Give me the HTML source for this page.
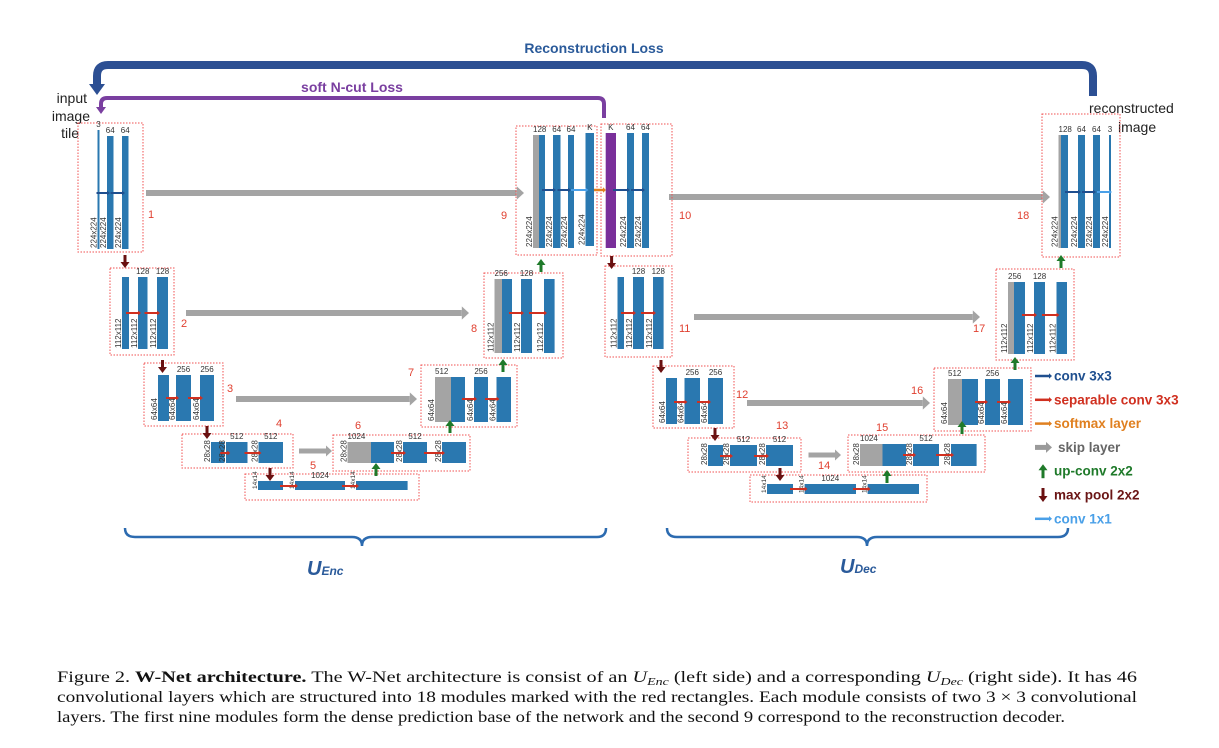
<!DOCTYPE html>
<html><head><meta charset="utf-8"><style>
html,body{margin:0;padding:0;background:#fff;}
svg{display:block;font-family:"Liberation Sans",sans-serif;}
</style></head><body>
<svg id="fig" width="1219" height="748" viewBox="0 0 1219 748" xmlns="http://www.w3.org/2000/svg">
<g id="loss">
<path d="M97,88 L97,76 Q97,65 108,65 L1082,65 Q1093,65 1093,76 L1093,96" fill="none" stroke="#2c4f93" stroke-width="8"/>
<path d="M89,84 L105,84 L97,95 z" fill="#2c4f93"/>
<text x="594" y="53" text-anchor="middle" font-size="14" font-weight="bold" fill="#2a5a9a">Reconstruction Loss</text>
<path d="M101,108 L101,104 Q101,98 107,98 L598,98 Q604,98 604,104 L604,118" fill="none" stroke="#7a3fa0" stroke-width="4"/>
<path d="M96,107 L106,107 L101,114 z" fill="#7a3fa0"/>
<text x="352" y="92" text-anchor="middle" font-size="14" font-weight="bold" fill="#7a3fa0">soft N-cut Loss</text>
</g>
<g font-size="14" fill="#222" text-anchor="end">
<text x="87" y="103">input</text><text x="90" y="121">image</text><text x="79" y="138">tile</text>
</g>
<g font-size="14" fill="#222">
<text x="1089" y="113">reconstructed</text><text x="1118" y="132">image</text>
</g>
<g id="mods"></g>
<g id="legend" font-size="13.5" font-weight="bold"></g>
<g>
<path d="M125,528 Q125,537 135,537 L352,537 Q362,537 362,546 Q362,537 372,537 L597,537 Q606,537 606,528" fill="none" stroke="#2c6bb0" stroke-width="2.5"/>
<text x="307" y="575" font-size="20" font-weight="bold" font-style="italic" fill="#2a5a9a">U<tspan font-size="12">Enc</tspan></text>
</g>
<g>
<path d="M667,528 Q667,537 677,537 L857,537 Q867,537 867,546 Q867,537 877,537 L1058,537 Q1068,537 1068,528" fill="none" stroke="#2c6bb0" stroke-width="2.5"/>
<text x="840" y="573" font-size="20" font-weight="bold" font-style="italic" fill="#2a5a9a">U<tspan font-size="12">Dec</tspan></text>
</g>
<g font-family="'Liberation Serif',serif" font-size="16" fill="#111">
<text x="57" y="682" textLength="1080" lengthAdjust="spacingAndGlyphs">Figure 2. <tspan font-weight="bold">W-Net architecture.</tspan> The W-Net architecture is consist of an <tspan font-style="italic">U</tspan><tspan font-style="italic" font-size="11" dy="3">Enc</tspan><tspan dy="-3"> (left side) and a corresponding </tspan><tspan font-style="italic">U</tspan><tspan font-style="italic" font-size="11" dy="3">Dec</tspan><tspan dy="-3"> (right side).  It has 46</tspan></text>
<text x="57" y="702" textLength="1080" lengthAdjust="spacingAndGlyphs">convolutional layers which are structured into 18 modules marked with the red rectangles. Each module consists of two 3 × 3 convolutional</text>
<text x="57" y="722" textLength="1008" lengthAdjust="spacingAndGlyphs">layers. The first nine modules form the dense prediction base of the network and the second 9 correspond to the reconstruction decoder.</text>
</g>
</svg>
<script>
const NS="http://www.w3.org/2000/svg";
const B="#2a78b0",G="#a4a4a4",P="#7a2f9a";
const RED="#d03020",DB="#1f4f8f",LB="#4aa0e8",OR="#e08020";
const modules=[
{n:"1",box:[78,123,143,252],lbl:[148,218],ay:193,ac:[DB,DB],bars:[[97.5,99.5,130,249,B,"3","224x224"],[107,113.5,136,249,B,"64","224x224"],[122,128.5,136,249,B,"64","224x224"]]},
{n:"2",box:[110,268,174,355],lbl:[181,327],ay:313,ac:[RED,RED],bars:[[122,129,277,349,B,"","112x112"],[138,147.5,277,349,B,"128","112x112"],[157,168,277,349,B,"128","112x112"]]},
{n:"3",box:[144,363,223,426],lbl:[227,392],ay:398,ac:[RED,RED],bars:[[158,169,375,421,B,"","64x64"],[176,191,375,421,B,"256","64x64"],[200,214,375,421,B,"256","64x64"]]},
{n:"4",box:[182,434,293,468],lbl:[276,427],ay:453,ac:[RED,RED],bars:[[211,224.5,442,463,B,"","28x28"],[226,247.5,442,463,B,"512","28x28"],[258.5,283,442,463,B,"512","28x28"]]},
{n:"5",box:[245,474,419,500],lbl:[310,469],ay:486,ac:[RED,RED],bars:[[258,283,481,490,B,"","14x14"],[295,345,481,490,B,"1024","14x14"],[356,407.6,481,490,B,"","14x14"]]},
{n:"6",box:[333,435,470,471],lbl:[355,429],ay:453,ac:[RED,RED],bars:[[347.5,371,442,463,G,"1024","28x28"],[371,394,442,463,B,"",""],[403,427,442,463,B,"512","28x28"],[442,466,442,463,B,"","28x28"]]},
{n:"7",box:[421,365,517,427],lbl:[408,376],ay:399,ac:[RED,RED],bars:[[435,451,377,422,G,"512","64x64"],[451,465,377,422,B,"",""],[474,488,377,422,B,"256","64x64"],[496.5,511,377,422,B,"","64x64"]]},
{n:"8",box:[484,273,563,358],lbl:[471,332],ay:313,ac:[RED,RED],bars:[[494.5,502,279,353,G,"256","112x112"],[502,512,279,353,B,"",""],[521,532,279,353,B,"128","112x112"],[544,554.6,279,353,B,"","112x112"]]},
{n:"9",box:[516,126,597,255],lbl:[501,219],ay:190,ac:[DB,DB,LB],bars:[[533,539,135,248,G,"128","224x224"],[539,545,135,248,B,"",""],[553,560.5,135,248,B,"64","224x224"],[568,574,135,248,B,"64","224x224"],[585.5,594,133,246,B,"K","224x224"]]},
{n:"10",box:[601,124,672,256],lbl:[679,219],ay:190,ac:[DB,DB],bars:[[605.7,616,133,248,P,"K",""],[627,634,133,248,B,"64","224x224"],[642,649,133,248,B,"64","224x224"]]},
{n:"11",box:[605,266,672,357],lbl:[679,332],ay:313,ac:[RED,RED],bars:[[617.5,624,277,349,B,"","112x112"],[633,644,277,349,B,"128","112x112"],[653,663.6,277,349,B,"128","112x112"]]},
{n:"12",box:[653,366,734,428],lbl:[736,398],ay:402,ac:[RED,RED],bars:[[666,677,378,424,B,"","64x64"],[684.5,700,378,424,B,"256","64x64"],[708,723,378,424,B,"256","64x64"]]},
{n:"13",box:[688,438,801,472],lbl:[776,429],ay:456,ac:[RED,RED],bars:[[708,723,445,466,B,"","28x28"],[730,757,445,466,B,"512","28x28"],[766,793,445,466,B,"512","28x28"]]},
{n:"14",box:[750,475,927,502],lbl:[818,469],ay:489,ac:[RED,RED],bars:[[767,793,484,494,B,"","14x14"],[804.6,856,484,494,B,"1024","14x14"],[867.6,919,484,494,B,"","14x14"]]},
{n:"15",box:[848,435,985,472],lbl:[876,431],ay:455,ac:[RED,RED],bars:[[860,882.5,444,466,G,"1024","28x28"],[882.5,906,444,466,B,"",""],[913,939,444,466,B,"512","28x28"],[951,976.6,444,466,B,"","28x28"]]},
{n:"16",box:[934,368,1031,431],lbl:[911,394],ay:402,ac:[RED,RED],bars:[[948,962,379,425,G,"512","64x64"],[962,978,379,425,B,"",""],[985,1000,379,425,B,"256","64x64"],[1008,1023,379,425,B,"","64x64"]]},
{n:"17",box:[996,269,1074,360],lbl:[973,332],ay:315,ac:[RED,RED],bars:[[1008,1014,282,354,G,"256","112x112"],[1014,1025,282,354,B,"",""],[1034,1045,282,354,B,"128","112x112"],[1056.5,1067,282,354,B,"","112x112"]]},
{n:"18",box:[1042,114,1120,257],lbl:[1017,219],ay:192,ac:[DB,DB,LB],bars:[[1058.5,1061,135,248,G,"128","224x224"],[1061,1068,135,248,B,"",""],[1078,1085,135,248,B,"64","224x224"],[1093,1100,135,248,B,"64","224x224"],[1109,1111,135,248,B,"3","224x224"]]}
];
const skips=[[146,524,193,6],[186,469,313,6],[236,417,399,6],[299,332,451,5],[669,1050,197,6],[694,980,317,6],[747,930,403,6],[808.5,841,455,5]];
const pools=[[125,255],[162.5,360],[207,426],[270,468],[611.6,256],[661,360],[715,428],[780,468]];
const ups=[[376,476],[450,433],[503,372],[541,272],[887,483],[962,434],[1015,370],[1061,268]];
const legendItems=[["conv 3x3",DB,"h"],["separable conv 3x3",RED,"h"],["softmax layer",OR,"h"],["skip layer","#9a9a9a","h"],["up-conv 2x2","#1f7a2a","u"],["max pool 2x2","#6a1010","d"],["conv 1x1",LB,"h"]];
const legendText=["#1f4f8f","#d03020","#e08020","#666","#1f7a2a","#6a1515","#4aa0e8"];

function el(tag,attrs,parent){const e=document.createElementNS(NS,tag);for(const k in attrs)e.setAttribute(k,attrs[k]);parent.appendChild(e);return e;}
function hArrow(x1,x2,y,col,w,parent){
  const g=el("g",{},parent);
  const hl=Math.max(3,w*1.2);
  el("line",{x1:x1,y1:y,x2:x2-hl,y2:y,stroke:col,"stroke-width":w},g);
  el("path",{d:`M${x2-hl},${y-w*1.1} L${x2},${y} L${x2-hl},${y+w*1.1} z`,fill:col},g);
  return g;
}
function vArrow(x,y1,y2,col,parent){
  const g=el("g",{},parent);
  const dir=y2>y1?1:-1;
  el("line",{x1:x,y1:y1,x2:x,y2:y2-dir*5,stroke:col,"stroke-width":3},g);
  el("path",{d:`M${x-4.5},${y2-dir*6} L${x},${y2} L${x+4.5},${y2-dir*6} z`,fill:col},g);
  return g;
}
const mods=document.getElementById("mods");
skips.forEach(s=>{
  const g=hArrow(s[0],s[1],s[2],G,s[3],mods);
  
  
});
modules.forEach(m=>{
  const g=el("g",{},mods);
  
  
  const bx=el("rect",{x:m.box[0],y:m.box[1],width:m.box[2]-m.box[0],height:m.box[3]-m.box[1],fill:"none",stroke:"#f05050","stroke-width":1,"stroke-dasharray":"1.5,1.5"},g);
  
  
  const t=el("text",{x:m.lbl[0],y:m.lbl[1],"font-size":11,fill:"#e04030"},g);
  t.textContent=m.n;
  
  
  m.bars.forEach(b=>{
    const r=el("rect",{x:b[0],y:b[2],width:b[1]-b[0],height:b[3]-b[2],fill:b[4]},g);
    
    
    if(b[5]){const tt=el("text",{x:b[0]+(b[4]===G?0:(b[1]-b[0])/2),y:b[2]-3,"font-size":8,fill:"#333","text-anchor":b[4]===G?"start":"middle"},g);tt.textContent=b[5];
      
      }
    if(b[6]){const h=b[3]-b[2];const fs=h<15?6.5:8;const tx=b[0]-1, ty=b[3]-1;
      const dt=el("text",{x:tx,y:ty,"font-size":fs,fill:"#333",transform:`rotate(-90 ${tx} ${ty})`},g);dt.textContent=b[6];
      
      }
  });
  const stacks=[];m.bars.forEach(b=>{if(b[4]===B&&stacks.length&&stacks[stacks.length-1][4]===G&&Math.abs(stacks[stacks.length-1][1]-b[0])<0.6){stacks[stacks.length-1]=[stacks[stacks.length-1][0],b[1],b[2],b[3],B];}else stacks.push(b.slice());});
  for(let i=0;i<stacks.length-1;i++){
    let x1=stacks[i][1]-3,x2=stacks[i+1][0]+3;
    if(x2-x1<9){const c=(x1+x2)/2;x1=c-5;x2=c+5;}
    const a=hArrow(x1,x2,m.ay,m.ac[i]||RED,2,g);
    
    
  }
});
{const a=hArrow(594,606,190,OR,2.5,mods);

}
pools.forEach(p=>{const a=vArrow(p[0],p[1],p[1]+13,"#6a1010",mods);
  
  });
ups.forEach(p=>{const a=vArrow(p[0],p[1],p[1]-13,"#1f7a2a",mods);
  
  });
const lg=document.getElementById("legend");
legendItems.forEach((it,i)=>{
  const y=376+i*23.8;
  const g=el("g",{},lg);
  
  
  if(it[2]==="h") hArrow(1035,1052,y,it[1],it[0]==="skip layer"?5:2.5,g);
  else if(it[2]==="u") vArrow(1043,y+7,y-7,it[1],g);
  else vArrow(1043,y-7,y+7,it[1],g);
  const t=el("text",{x:it[0]==="skip layer"?1058:1054,y:y+4.5,fill:legendText[i]},g);
  t.textContent=it[0];
});
</script>
</body></html>
